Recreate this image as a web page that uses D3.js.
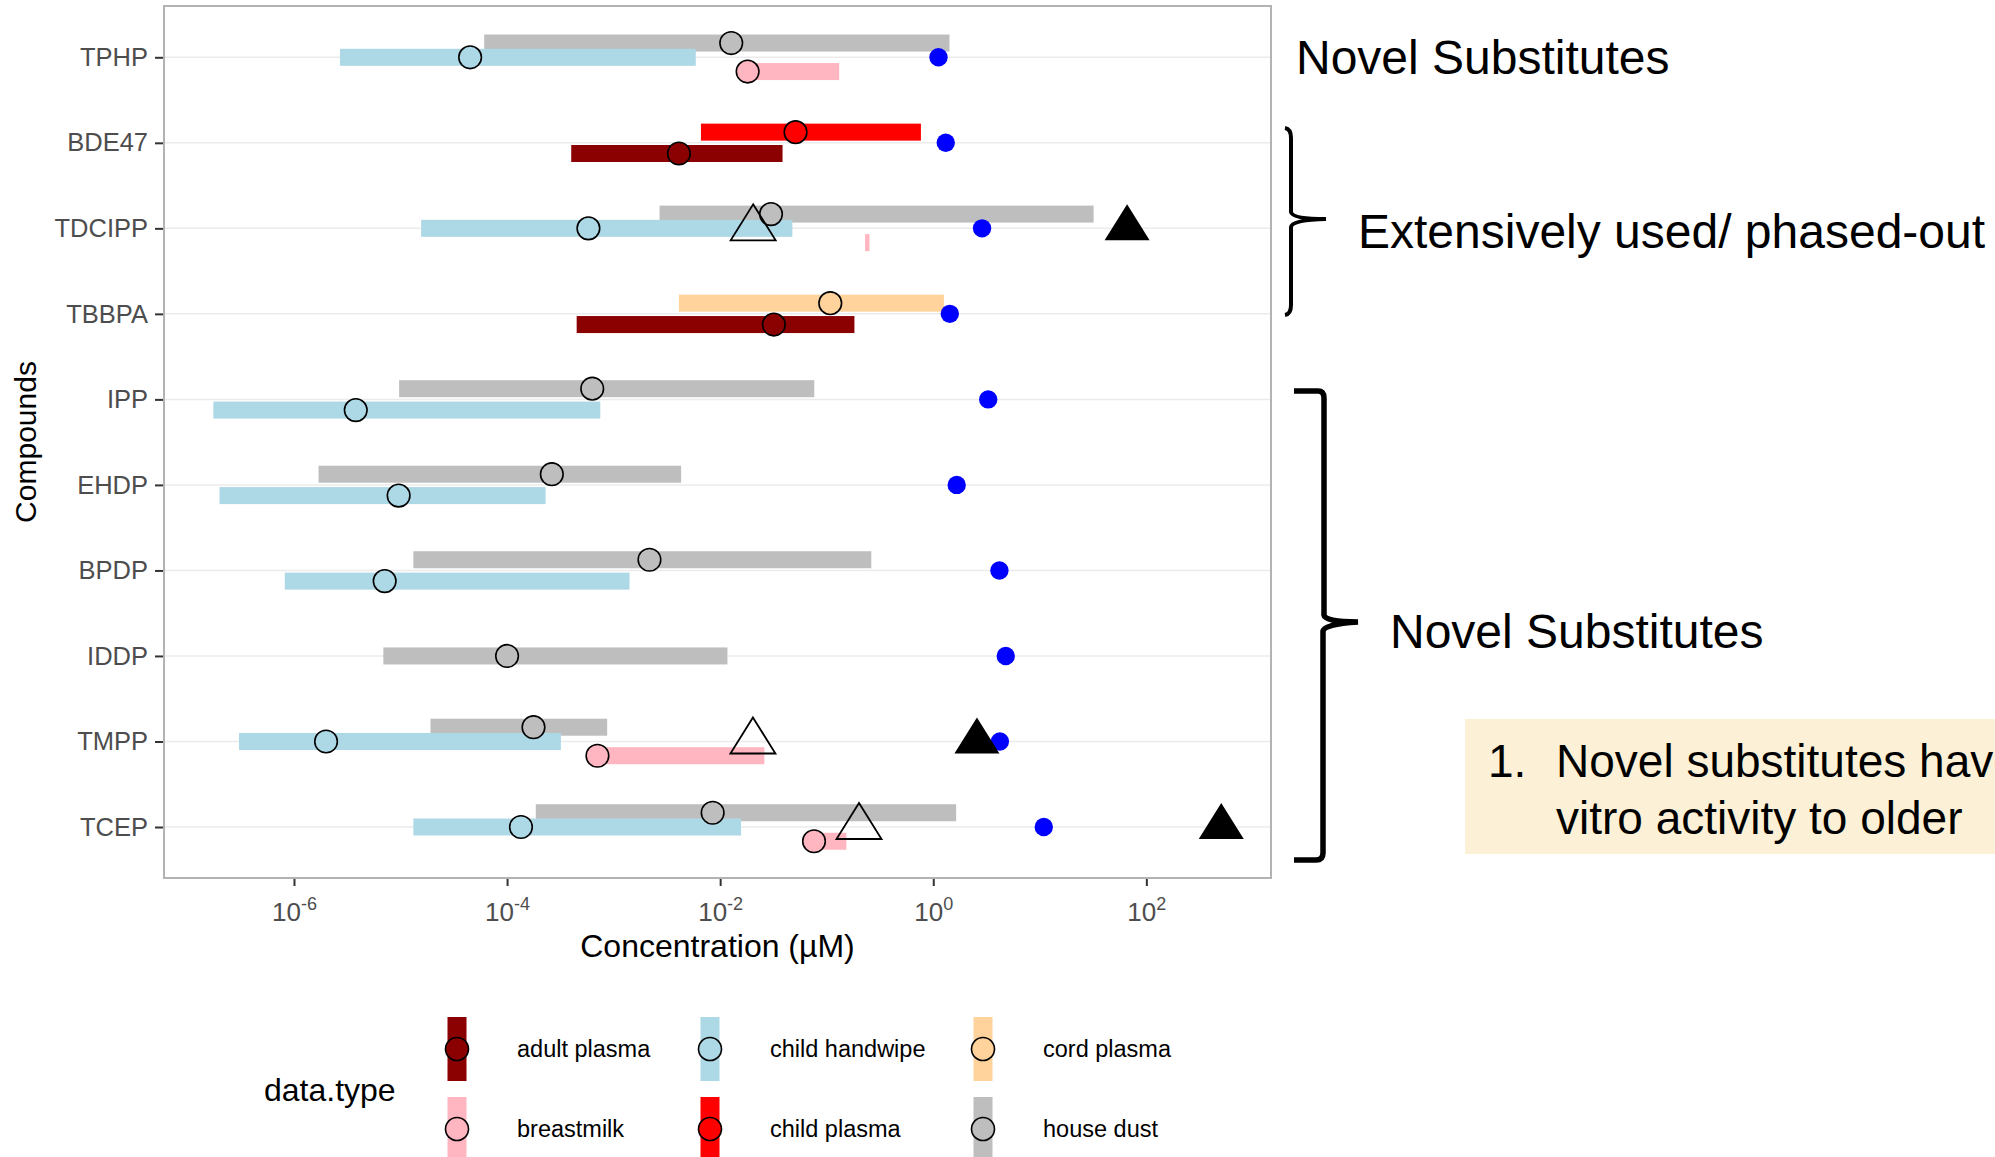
<!DOCTYPE html>
<html>
<head>
<meta charset="utf-8">
<script src="https://cdn.jsdelivr.net/npm/d3@7"></script>
<style>
  body { margin: 0; background: #ffffff; }
  svg { font-family: "Liberation Sans", Arial, sans-serif; }
</style>
</head>
<body>
<div id="chart"></div>
<script>
var svgWidth = 1995;
var svgHeight = 1157;

// compounds, top to bottom
var compounds = ["TPHP", "BDE47", "TDCIPP", "TBBPA", "IPP", "EHDP", "BPDP", "IDDP", "TMPP", "TCEP"];

// sample types (legend order) and their colours
var dataTypes = ["adult plasma", "breastmilk", "child handwipe", "child plasma", "cord plasma", "house dust"];
var typeColors = ["#8b0000", "#ffb6c1", "#add8e6", "#ff0000", "#ffd39b", "#bebebe"];

// [compound, data type, low, median, high]  (µM)
var ranges = [
  ["TPHP", "house dust", 6.1e-5, 0.0127, 1.42],
  ["TPHP", "child handwipe", 2.7e-6, 4.5e-5, 0.0059],
  ["TPHP", "breastmilk", 0.0174, 0.0181, 0.131],
  ["BDE47", "child plasma", 0.0066, 0.051, 0.766],
  ["BDE47", "adult plasma", 4.0e-4, 0.0041, 0.0385],
  ["TDCIPP", "house dust", 0.0027, 0.030, 32],
  ["TDCIPP", "child handwipe", 1.56e-5, 5.8e-4, 0.0476],
  ["TDCIPP", "breastmilk", 0.229, null, 0.252],
  ["TBBPA", "cord plasma", 0.0041, 0.108, 1.26],
  ["TBBPA", "adult plasma", 4.5e-4, 0.0319, 0.182],
  ["IPP", "house dust", 9.7e-6, 6.3e-4, 0.0764],
  ["IPP", "child handwipe", 1.75e-7, 3.8e-6, 7.5e-4],
  ["EHDP", "house dust", 1.7e-6, 2.63e-4, 0.0043],
  ["EHDP", "child handwipe", 2.0e-7, 9.6e-6, 2.3e-4],
  ["BPDP", "house dust", 1.32e-5, 0.00217, 0.262],
  ["BPDP", "child handwipe", 8.2e-7, 7.1e-6, 0.00141],
  ["IDDP", "house dust", 6.9e-6, 1.0e-4, 0.0117],
  ["TMPP", "house dust", 1.91e-5, 1.77e-4, 8.7e-4],
  ["TMPP", "child handwipe", 3.05e-7, 2.0e-6, 3.2e-4],
  ["TMPP", "breastmilk", 6.8e-4, 7.05e-4, 0.026],
  ["TCEP", "house dust", 1.86e-4, 0.0085, 1.64],
  ["TCEP", "child handwipe", 1.32e-5, 1.35e-4, 0.0157],
  ["TCEP", "breastmilk", 0.074, 0.076, 0.153]
];

// blue points, one per compound (same order as compounds)
var bluePoints = [1.12, 1.31, 2.87, 1.43, 3.28, 1.66, 4.18, 4.79, 4.22, 10.9];

// triangles: [compound, value]
var openTriangles = [["TDCIPP", 0.0204], ["TMPP", 0.0203], ["TCEP", 0.201]];
var filledTriangles = [["TDCIPP", 66], ["TMPP", 2.57], ["TCEP", 505]];

var xTicks = [1e-6, 1e-4, 1e-2, 1, 100];

var panel = { left: 164, right: 1271, top: 6, bottom: 878 };

var svg = d3.select("#chart")
  .append("svg")
  .attr("width", svgWidth)
  .attr("height", svgHeight);

var x = d3.scaleLog()
  .domain([Math.pow(10, -7.22), Math.pow(10, 3.17)])
  .range([panel.left, panel.right]);

var y = d3.scalePoint()
  .domain(compounds)
  .range([57.3, 827]);

var color = d3.scaleOrdinal().domain(dataTypes).range(typeColors);

var barH = 17;
var dodgeW = y.step() * 0.5;

// gridlines
svg.append("g")
  .selectAll("line")
  .data(compounds)
  .enter()
  .append("line")
  .attr("x1", panel.left)
  .attr("x2", panel.right)
  .attr("y1", d => y(d))
  .attr("y2", d => y(d))
  .attr("stroke", "#ebebeb")
  .attr("stroke-width", 1.5);

// dodge position for each range
function dodgeY(d) {
  var groups = ranges.filter(r => r[0] === d[0]).map(r => r[1]).sort();
  var n = groups.length;
  var i = groups.indexOf(d[1]);
  return y(d[0]) + dodgeW / 2 - (i + 0.5) * dodgeW / n;
}

// bars
svg.append("g")
  .selectAll("rect")
  .data(ranges)
  .enter()
  .append("rect")
  .attr("x", d => x(d[2]))
  .attr("width", d => x(d[4]) - x(d[2]))
  .attr("y", d => dodgeY(d) - barH / 2)
  .attr("height", barH)
  .attr("fill", d => color(d[1]));

// medians
svg.append("g")
  .selectAll("circle")
  .data(ranges.filter(d => d[3] !== null))
  .enter()
  .append("circle")
  .attr("cx", d => x(d[3]))
  .attr("cy", d => dodgeY(d))
  .attr("r", 11.3)
  .attr("fill", d => color(d[1]))
  .attr("stroke", "#000")
  .attr("stroke-width", 1.6);

// blue points
svg.append("g")
  .selectAll("circle")
  .data(bluePoints)
  .enter()
  .append("circle")
  .attr("cx", d => x(d))
  .attr("cy", (d, i) => y(compounds[i]))
  .attr("r", 9.2)
  .attr("fill", "#0000ff");

var triPath = "M0,-24L22.5,12L-22.5,12Z";

svg.append("g")
  .selectAll("path")
  .data(openTriangles)
  .enter()
  .append("path")
  .attr("d", triPath)
  .attr("transform", d => "translate(" + x(d[1]) + "," + y(d[0]) + ")")
  .attr("fill", "none")
  .attr("stroke", "#000")
  .attr("stroke-width", 1.8);

svg.append("g")
  .selectAll("path")
  .data(filledTriangles)
  .enter()
  .append("path")
  .attr("d", triPath)
  .attr("transform", d => "translate(" + x(d[1]) + "," + y(d[0]) + ")")
  .attr("fill", "#000");

// panel border
svg.append("rect")
  .attr("x", panel.left)
  .attr("y", panel.top)
  .attr("width", panel.right - panel.left)
  .attr("height", panel.bottom - panel.top)
  .attr("fill", "none")
  .attr("stroke", "#b3b3b3")
  .attr("stroke-width", 2);

// x axis
var xAxis = svg.append("g")
  .attr("transform", "translate(0," + (panel.bottom + 1) + ")")
  .call(d3.axisBottom(x).tickValues(xTicks).tickSize(7).tickFormat(""));
xAxis.select(".domain").remove();
xAxis.selectAll(".tick line").attr("stroke", "#333").attr("stroke-width", 2);
xAxis.selectAll(".tick")
  .append("text")
  .attr("y", 42)
  .attr("fill", "#4d4d4d")
  .attr("font-size", 26)
  .attr("text-anchor", "middle")
  .each(function(d) {
    var t = d3.select(this);
    t.append("tspan").text("10");
    t.append("tspan")
      .attr("dy", -11)
      .attr("font-size", 18)
      .text(String(Math.round(Math.log10(d))));
  });

// y axis
var yAxis = svg.append("g")
  .attr("transform", "translate(" + (panel.left - 1) + ",0)")
  .call(d3.axisLeft(y).tickSize(8).tickPadding(7));
yAxis.select(".domain").remove();
yAxis.selectAll(".tick line").attr("stroke", "#333").attr("stroke-width", 2);
yAxis.selectAll(".tick text")
  .attr("fill", "#4d4d4d")
  .attr("font-size", 25.5)
  .attr("font-family", "Liberation Sans, Arial, sans-serif");

// axis titles
svg.append("text")
  .attr("x", (panel.left + panel.right) / 2)
  .attr("y", 957)
  .attr("text-anchor", "middle")
  .attr("font-size", 32)
  .text("Concentration (\u00b5M)");

svg.append("text")
  .attr("transform", "translate(36," + ((panel.top + panel.bottom) / 2) + ") rotate(-90)")
  .attr("text-anchor", "middle")
  .attr("font-size", 30)
  .text("Compounds");

// legend
var legend = svg.append("g");
legend.append("text")
  .attr("x", 264)
  .attr("y", 1101)
  .attr("font-size", 32)
  .text("data.type");

var keyCols = [457, 710, 983];
var keyRows = [1049, 1129];

var keys = legend.selectAll("g.key")
  .data(dataTypes)
  .enter()
  .append("g")
  .attr("class", "key")
  .attr("transform", (d, i) => "translate(" + keyCols[Math.floor(i / 2)] + "," + keyRows[i % 2] + ")");

keys.append("rect")
  .attr("x", -9.5)
  .attr("y", -32)
  .attr("width", 19)
  .attr("height", 64)
  .attr("fill", d => color(d));

keys.append("circle")
  .attr("r", 11.5)
  .attr("fill", d => color(d))
  .attr("stroke", "#000")
  .attr("stroke-width", 1.6);

keys.append("text")
  .attr("x", 60)
  .attr("y", 8)
  .attr("font-size", 23.5)
  .text(d => d);

// annotations on the right
var notes = svg.append("g").attr("font-size", 48).attr("fill", "#000");

notes.append("text").attr("x", 1296).attr("y", 74).text("Novel Substitutes");
notes.append("text").attr("x", 1358).attr("y", 248).text("Extensively used/ phased-out");
notes.append("text").attr("x", 1390).attr("y", 648).text("Novel Substitutes");

svg.append("path")
  .attr("d", "M1285,128 Q1291,129 1291,138 L1291,212 Q1292,219 1326,219 Q1292,220 1291,227 L1291,305 Q1291,314 1285,315")
  .attr("fill", "none")
  .attr("stroke", "#000")
  .attr("stroke-width", 4);

svg.append("path")
  .attr("d", "M1294,391 L1318,391 Q1324,391 1324,398 L1324,615 Q1325,622 1358,622 Q1324,624 1323,631 L1323,853 Q1323,860 1316,860 L1294,860")
  .attr("fill", "none")
  .attr("stroke", "#000")
  .attr("stroke-width", 5.5);

// highlighted box
svg.append("rect")
  .attr("x", 1465)
  .attr("y", 719)
  .attr("width", svgWidth - 1465)
  .attr("height", 135)
  .attr("fill", "#fcf1d6");

var box = svg.append("g").attr("font-size", 46).attr("fill", "#000");
box.append("text").attr("x", 1488).attr("y", 777).text("1.");
box.append("text").attr("x", 1556).attr("y", 777).text("Novel substitutes have");
box.append("text").attr("x", 1556).attr("y", 834).text("vitro activity to older");
</script>
</body>
</html>
